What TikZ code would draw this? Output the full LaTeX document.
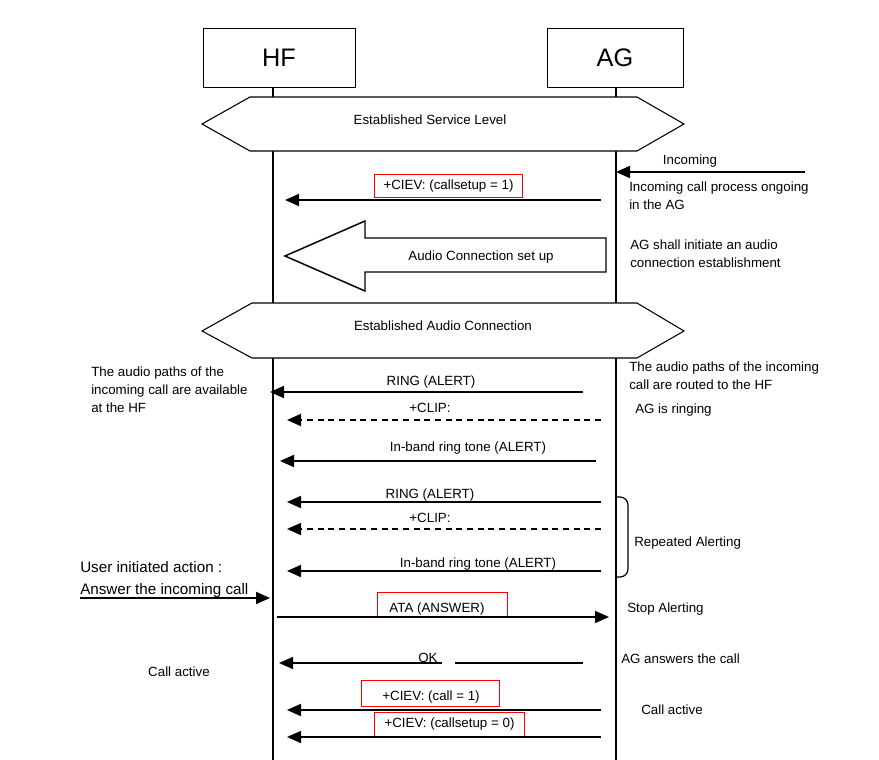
\documentclass[tikz,border=0pt]{standalone}
\usepackage{fontspec}
\setmainfont{Liberation Sans}
\usetikzlibrary{arrows.meta}

\begin{document}
\begin{tikzpicture}[x=0.75pt,y=-0.75pt]
\tikzstyle{every node}=[font=\fontsize{10}{13.5}\selectfont,inner sep=0pt]
\tikzstyle{entity}=[draw,line width=0.7pt,minimum height=44pt,font=\fontsize{19}{22}\selectfont]
\tikzstyle{life}=[line width=1.3pt]
\tikzstyle{phase}=[draw,fill=white,line width=0.8pt]
\tikzstyle{msg}=[line width=1.4pt,-{Triangle[length=10.5pt,width=9pt]}]
\tikzstyle{optmsg}=[msg,dash pattern=on 4.5pt off 3.5pt]
\tikzstyle{note}=[anchor=north west,align=left]
\tikzstyle{redbox}=[draw=red,line width=0.75pt,inner sep=0pt]
\useasboundingbox (0,0) rectangle (879,760);

% entities and life lines
\node[entity,minimum width=114pt] (hf) at (279,58) {HF};
\node[entity,minimum width=102pt] (ag) at (615,58) {AG};
\coordinate (hfend) at (273,760);
\coordinate (agend) at (616,760);
\draw[life] (hf.south -| hfend) -- (hfend);
\draw[life] (ag.south -| agend) -- (agend);

% established service level
\draw[phase] (202,124) -- (250,97) -- (637,97) -- (684,124) -- (637,151) -- (250,151) -- cycle;
\node (svc) at (430,120) {Established Service Level};

% incoming call
\coordinate (inA) at (805,172);
\coordinate (inB) at (616,172);
\draw[msg] (inA) -- (inB);
\node (incoming) at (690,161) {Incoming};
\node[note] (ongoing) at (629,182) {Incoming call process ongoing\\in the AG};

\node[redbox,minimum width=111pt,minimum height=17.25pt] (ciev1) at (448.5,186) {+CIEV: (callsetup = 1)};
\coordinate (r1) at (601,200);
\coordinate (l1) at (285,200);
\draw[msg] (r1) -- (l1);

% audio connection set up
\draw[line width=1.1pt,fill=white] (285,256) -- (365,221) -- (365,238) -- (606,238) -- (606,272) -- (365,272) -- (365,291) -- cycle;
\node (audio) at (481,257) {Audio Connection set up};
\node[note] (initiate) at (630,240) {AG shall initiate an audio\\connection establishment};

% established audio connection
\draw[phase] (202,331) -- (252,303) -- (637,303) -- (684,331) -- (637,358) -- (252,358) -- cycle;
\node (aud) at (443,326) {Established Audio Connection};

\node[note] (pathhf) at (91,367) {The audio paths of the\\incoming call are available\\at the HF};
\node[note] (pathag) at (629,362) {The audio paths of the incoming\\call are routed to the HF};

% alerting
\coordinate (r2) at (583,392);
\coordinate (l2) at (270,392);
\draw[msg] (r2) -- (l2);
\node (ring1) at (431,382) {RING (ALERT)};
\coordinate (r3) at (601,420);
\coordinate (l3) at (287,420);
\draw[optmsg] (r3) -- (l3);
\node (clip1) at (430,408) {+CLIP:};
\node[anchor=west] (ringing) at (635,410) {AG is ringing};
\coordinate (r4) at (596,461);
\coordinate (l4) at (280,461);
\draw[msg] (r4) -- (l4);
\node (tone1) at (468,448) {In-band ring tone (ALERT)};

% repeated alerting
\coordinate (r5) at (601,502);
\coordinate (l5) at (287,502);
\draw[msg] (r5) -- (l5);
\node (ring2) at (430,495) {RING (ALERT)};
\coordinate (r6) at (601,529);
\coordinate (l6) at (287,529);
\draw[optmsg] (r6) -- (l6);
\node (clip2) at (430,518) {+CLIP:};
\coordinate (r7) at (601,571);
\coordinate (l7) at (287,571);
\draw[msg] (r7) -- (l7);
\node (tone2) at (478,564) {In-band ring tone (ALERT)};
\coordinate (brtop) at (617,497);
\coordinate (brbot) at (617,577);
\draw[line width=0.9pt,rounded corners=6pt] (brtop) -- ++(11,0) |- (brbot);
\node[anchor=west] (repeat) at (634,543) {Repeated Alerting};

% answer
\node[note,font=\fontsize{11.4}{16.5}\selectfont] (user) at (80,561) {User initiated action :\\Answer the incoming call};
\coordinate (ua) at (80,598);
\coordinate (ub) at (270,598);
\draw[msg] (ua) -- (ub);
\node[redbox,minimum width=97.5pt,minimum height=18.75pt] (ata) at (442.5,605) {};
\node (atatext) at (437,609) {ATA (ANSWER)};
\coordinate (l8) at (277,617);
\coordinate (r8) at (609,617);
\draw[msg] (l8) -- (r8);
\node[anchor=west] (stop) at (627,609) {Stop Alerting};

\coordinate (r9) at (583,663);
\coordinate (l9) at (279,663);
\draw[msg] (r9) -- (l9);
\fill[white] (442,660) rectangle (455,666);
\node (ok) at (428,658) {OK};
\node[anchor=west] (answers) at (621,659) {AG answers the call};
\node (active1) at (179,672) {Call active};

% call active
\node[redbox,minimum width=103.5pt,minimum height=19.5pt] (ciev2) at (430.5,693.5) {};
\node (ciev2text) at (431,697) {+CIEV: (call = 1)};
\coordinate (r10) at (601,710);
\coordinate (l10) at (287,710);
\draw[msg] (r10) -- (l10);
\node[redbox,minimum width=112.5pt,minimum height=18pt] (ciev3) at (449.5,724.5) {+CIEV: (callsetup = 0)};
\coordinate (r11) at (601,737);
\coordinate (l11) at (287,737);
\draw[msg] (r11) -- (l11);
\node[anchor=west] (active2) at (641,710) {Call active};
\end{tikzpicture}
\end{document}
